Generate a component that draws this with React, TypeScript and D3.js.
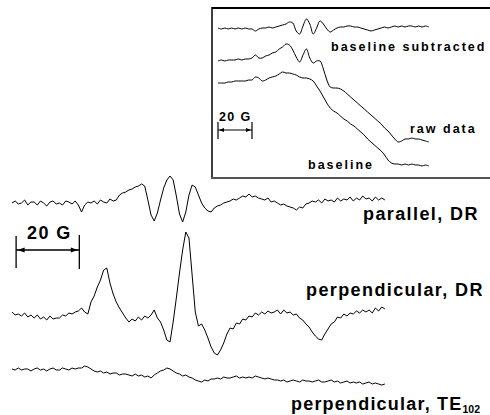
import React from 'react';
import * as d3 from 'd3';

// ---------- data (signal amplitude, arbitrary units; up = positive) ----------
// main spectra: field 0..118 G, one value per 1 G
const mainFieldStep = 1;
const parallelDR = [
  0, 2, -1, 0, 3, -2, 1, 1, -2, 2, 0, -3, 1, 2, -1, 0, -2, 2, 1, -1, 2, -2,
  -9,
  -2, 1, 0, 2, -1, 3, 1, 0, 4, 2, 3,
  8, 10, 11, 13, 14, 16, 17, 19,
  17, 3, -12, -18, -10, 3, 15, 23, 27, 23, 7, -11, -19, -9, 8, 18, 16, 8,
  0, -5, -8, -9, -5, -3, -2, 0, 1, 2, 4, 3, 5, 7, 6, 9, 6, 7, 5, 4,
  3, 5, 1, 2, 0, -2, -1, -3, -4, -5, -7, -4, -5, -1, 0, 2, 1, 3, 0, 4,
  2, 3, 1, 5, 2, 4, 3, 6, 2, 5, 3, 7, 4, 5, 2, 6, 3, 5, 3,
];
const perpendicularDR = [
  4, 1, 2, 0, 3, -1, 1, -2, 1, -3, -1, -4, 0, -3, -2, -2, 1, 0, 3, 2, 4, 5,
  8, 4, 2,
  14, 20, 29, 36, 46, 48, 33, 22, 14, 8, 3,
  -2, -6, -3, -5, -1, -4, 0, -2, 1,
  6,
  -2, -6, -14, -24, -26, -6, 18, 43, 66, 84, 78, 41, 4,
  -10, -8, -14, -22, -31, -37, -39, -34, -27, -18, -12, -13, -7, -8,
  -3, -4, 0, -1, 3, 1, 4, 2, 5, 3, 4, 6, 2, 6, 3, 4, 1, 2,
  -2, -4, -8, -11, -16, -20, -23, -24, -18, -13, -8, -6,
  -1, -2, 2, 0, 3, 2, 5, 3, 6, 4, 6, 3, 8, 5, 9, 7,
];
const perpendicularTE102 = [
  3, 2, 4, 2, 3, 3, 1, 3, 4, 2, 3, 1, 3, 4, 2, 2, 4, 3, 2, 4, 3, 4,
  4, 6, 5, 3, 1,
  0, 1, -1, 0, -2, -1, -1, -3, -2, -2, -3, -4, -2, -4, -3, -5, -4, -6, -3,
  -1, 1, 2, 4, 3, 1, -1,
  -2, -4, -3, -5, -6, -8, -9, -10,
  -8, -9, -7, -7, -6, -7, -5, -6, -6, -5, -4, -6, -5, -6, -5, -6, -4, -5, -6, -7,
  -6, -7, -8, -8, -9, -8, -10, -9, -8, -9, -10, -8, -9, -9, -10, -9, -8, -10, -10, -9,
  -8, -10, -9, -11, -10, -9, -11, -10, -11, -10, -12, -11, -10, -12, -11, -12, -13, -12,
];

// inset spectra: field 0..124 G, one value per 2 G
const insetFieldStep = 2;
const insetSubtracted = [
  0, -1, 0, -1, 0, -1, 0, -1, 0, -1, -1, -3, -1, 0, 0, 1, 0, 1, 2, 3,
  4, 6, 5, -3, -6, 2, 9, 4, -6, 0, 7, 4, -1, -4, -2, 0, 1, 1, 2, 2,
  1, 1, 0, -1, -2, -3, -2, -1, 0, 1, 0, 1, 2, 1, 2, 1, 2, 2, 1, 2,
  1, 2, 1,
];
const insetRaw = [
  -1, 0, -1, 0, 0, 0, 1, 0, 1, 1, 2, 5, 2, 2, 4, 5, 7, 8, 11, 13,
  16, 15, 10, 3, -2, 5, 11, 2, -3, -1, -1, -9, -20, -27, -28, -28, -29, -31, -34, -37,
  -40, -43, -46, -49, -52, -55, -58, -61, -64, -68, -71, -75, -79, -82, -81, -79, -79, -78, -79, -79,
  -80, -81, -82,
];
const insetBaseline = [
  0, 0, 0, 1, 1, 2, 2, 2, 2, 3, 3, 6, 5, 2, 3, 5, 6, 7, 9, 11,
  10, 10, 9, 8, 6, 5, 5, 4, 2, -3, -8, -14, -20, -25, -28, -30, -33, -36, -38, -41,
  -43, -46, -49, -52, -56, -59, -62, -65, -68, -72, -77, -80, -81, -81, -82, -81, -82, -81, -82, -82,
  -83, -82, -83,
];

const scaleBarGauss = 20;
const mainLabels = ['parallel, DR', 'perpendicular, DR', 'perpendicular, TE'];
const insetLabels = ['baseline subtracted', 'raw data', 'baseline'];
const scaleLabel = '20 G';

const FONT = "'Liberation Sans', Arial, Helvetica, sans-serif";

export default function App() {
  const W = 490;
  const H = 415;

  const xMain = d3.scaleLinear().domain([0, 118]).range([12, 384.9]);
  const xInset = d3.scaleLinear().domain([0, 124]).range([218, 428.8]);
  const yAmp = d3.scaleLinear().domain([0, 1]).range([0, -1]);

  const lineFor = (xs: d3.ScaleLinear<number, number>, step: number) =>
    d3
      .line<number>()
      .x((_, i) => xs(i * step))
      .y((d) => yAmp(d));

  const mainLine = lineFor(xMain, mainFieldStep);
  const insetLine = lineFor(xInset, insetFieldStep).curve(d3.curveCatmullRom.alpha(0.5));

  const mainTraces = [
    { data: parallelDR, base: 203 },
    { data: perpendicularDR, base: 316 },
    { data: perpendicularTE102, base: 372 },
  ];
  const insetTraces = [
    { data: insetSubtracted, base: 28 },
    { data: insetRaw, base: 60 },
    { data: insetBaseline, base: 83 },
  ];

  const mainBarX0 = xMain(1.3);
  const mainBarX1 = xMain(1.3 + scaleBarGauss);
  const mainBarY = 250;
  const insetBarX0 = xInset(0);
  const insetBarX1 = xInset(scaleBarGauss);
  const insetBarY = 130;

  const arrow = (tipX: number, y: number, dir: number, len: number, half: number) =>
    `M${tipX},${y}L${tipX - dir * len},${y - half}L${tipX - dir * len},${y + half}Z`;

  return (
    <svg
      width={W}
      height={H}
      viewBox={`0 0 ${W} ${H}`}
      style={{ position: 'absolute', left: 0, top: 0, background: '#fff' }}
    >
      <rect x={0} y={0} width={W} height={H} fill="#fff" />

      {/* inset frame */}
      <line x1={212} y1={8} x2={W} y2={8} stroke="#000" strokeWidth={2} />
      <line x1={212} y1={7} x2={212} y2={179} stroke="#000" strokeWidth={1.5} />
      <line x1={211} y1={178} x2={W} y2={178} stroke="#555" strokeWidth={2} />

      {/* inset traces */}
      {insetTraces.map((t, k) => (
        <path
          key={'in' + k}
          d={insetLine(t.data) || ''}
          transform={`translate(0,${t.base})`}
          fill="none"
          stroke="#000"
          strokeWidth={1}
          strokeLinejoin="round"
        />
      ))}

      {/* inset labels */}
      <g fontFamily={FONT} fontWeight={700} fontSize={12.5} letterSpacing={2} fill="#000">
        <text x={331} y={51}>{insetLabels[0]}</text>
        <text x={410} y={133}>{insetLabels[1]}</text>
        <text x={308} y={169}>{insetLabels[2]}</text>
        <text x={219} y={121} letterSpacing={1.4}>{scaleLabel}</text>
      </g>

      {/* inset scale bar */}
      <g stroke="#000" strokeWidth={1.2}>
        <line x1={insetBarX0} y1={insetBarY} x2={insetBarX1} y2={insetBarY} />
        <line x1={insetBarX0} y1={122} x2={insetBarX0} y2={139} />
        <line x1={insetBarX1} y1={122} x2={insetBarX1} y2={139} />
      </g>
      <path d={arrow(insetBarX1 - 1, insetBarY, 1, 5, 2)} fill="#000" />
      <path d={arrow(insetBarX0 + 1, insetBarY, -1, 5, 2)} fill="#000" />

      {/* main traces */}
      {mainTraces.map((t, k) => (
        <path
          key={'m' + k}
          d={mainLine(t.data) || ''}
          transform={`translate(0,${t.base})`}
          fill="none"
          stroke="#000"
          strokeWidth={1}
          strokeLinejoin="round"
        />
      ))}

      {/* main scale bar */}
      <g stroke="#000" strokeWidth={1.3}>
        <line x1={mainBarX0} y1={mainBarY} x2={mainBarX1} y2={mainBarY} />
        <line x1={mainBarX0} y1={236} x2={mainBarX0} y2={268} />
        <line x1={mainBarX1} y1={235} x2={mainBarX1} y2={269} />
      </g>
      <path d={arrow(mainBarX0 + 1.5, mainBarY, -1, 7, 2.5)} fill="#000" />
      <path d={arrow(mainBarX1 - 1.5, mainBarY, 1, 7, 2.5)} fill="#000" />

      {/* main labels */}
      <g fontFamily={FONT} fontWeight={700} fontSize={18} letterSpacing={1.4} fill="#000">
        <text x={27} y={239}>{scaleLabel}</text>
        <text x={363} y={220}>{mainLabels[0]}</text>
        <text x={306} y={296}>{mainLabels[1]}</text>
      </g>
      <text x={291} y={410} fontFamily={FONT} fontWeight={700} fontSize={18} letterSpacing={1.2} fill="#000">
        {mainLabels[2]}
        <tspan fontSize={10.5} dy={3} letterSpacing={0}>102</tspan>
      </text>
    </svg>
  );
}
